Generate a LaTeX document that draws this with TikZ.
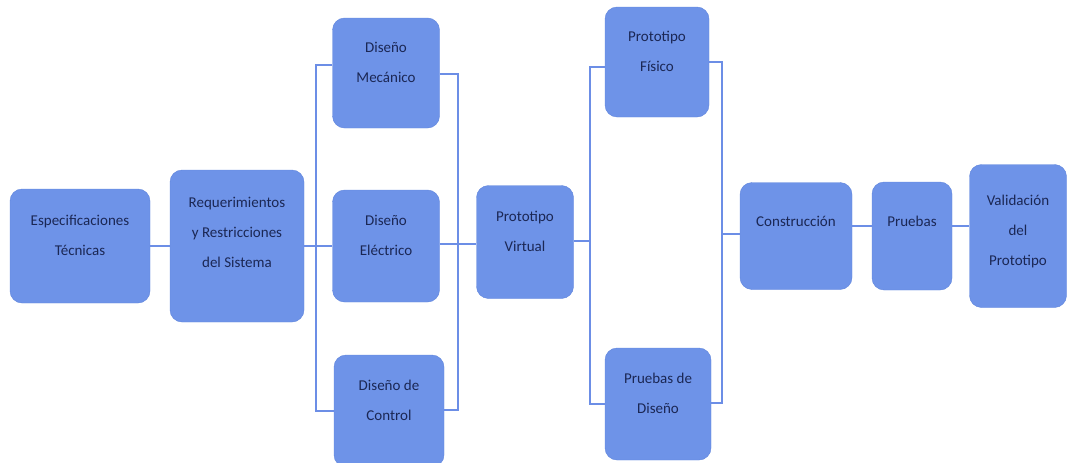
\documentclass[tikz,border=0pt]{standalone}
\usepackage{fontspec}
\setmainfont{Carlito}
\usepackage{xcolor}
\definecolor{bx}{HTML}{6E93E8}
\definecolor{bxl}{HTML}{5F85DC}
\definecolor{ln}{HTML}{6C8EE6}
\definecolor{tx}{HTML}{1B2754}

\tikzset{
	etapa/.style={draw=bxl, fill=bx, rounded corners=12pt, align=center, text=tx,
		font=\fontsize{15}{30}\selectfont, inner sep=2pt, text depth=22pt},
	enlace/.style={ln, line width=1.8pt}
}

\begin{document}
\begin{tikzpicture}[x=1pt,y=-1pt]
	\useasboundingbox (0,0) rectangle (1068,463);

	% primera parte
	\node[etapa, minimum width=140pt, minimum height=114pt] (espec) at (80,246) {Especificaciones\\Técnicas};
	\node[etapa, minimum width=134pt, minimum height=152pt, text depth=28pt] (req) at (237,246) {Requerimientos\\y Restricciones\\del Sistema};
	\draw [enlace] (espec) -- (req);

	% disenos
	\node[etapa, minimum width=107pt, minimum height=110pt] (meca) at (386,73) {Diseño\\Mecánico};
	\node[etapa, minimum width=107pt, minimum height=112pt] (elec) at (386,246) {Diseño\\Eléctrico};
	\node[etapa, minimum width=110pt, minimum height=112pt] (ctrl) at (389,411) {Diseño de\\Control};
	\coordinate (b1t) at (316,65);
	\coordinate (b1m) at (316,246);
	\coordinate (b1b) at (316,411);
	\draw [enlace] (req) -- (b1m) -- (elec);
	\draw [enlace] (meca.west |- b1t) -- (b1t) -- (b1b) -- (ctrl.west |- b1b);
	\coordinate (b2t) at (458,74);
	\coordinate (b2m) at (458,244);
	\coordinate (b2b) at (458,410);
	\draw [enlace] (meca.east |- b2t) -- (b2t) -- (b2b) -- (ctrl.east |- b2b);

	% prototipo virtual
	\node[etapa, minimum width=97pt, minimum height=113pt] (virt) at (525,242) {Prototipo\\Virtual};
	\draw [enlace] (elec.east |- b2m) -- (b2m) -- (virt.west |- b2m);

	% prototipo fisico y pruebas
	\node[etapa, minimum width=104pt, minimum height=110pt] (fis) at (657,62) {Prototipo\\Físico};
	\node[etapa, minimum width=106pt, minimum height=112pt] (prue) at (658,404) {Pruebas de\\Diseño};
	\coordinate (b3t) at (590,67);
	\coordinate (b3m) at (590,241);
	\coordinate (b3b) at (590,404);
	\draw [enlace] (virt.east |- b3m) -- (b3m);
	\draw [enlace] (fis.west |- b3t) -- (b3t) -- (b3b) -- (prue.west |- b3b);
	\coordinate (b4t) at (722,62);
	\coordinate (b4m) at (722,234);
	\coordinate (b4b) at (722,403);
	\draw [enlace] (fis.east |- b4t) -- (b4t) -- (b4b) -- (prue.east |- b4b);

	% etapa final
	\node[etapa, minimum width=112pt, minimum height=107pt, text depth=30pt] (cons) at (796,236) {Construcción};
	\node[etapa, minimum width=80pt, minimum height=108pt, text depth=30pt] (prb) at (912,236) {Pruebas};
	\node[etapa, minimum width=97pt, minimum height=143pt, text depth=12pt] (valid) at (1018,236) {Validación\\del\\Prototipo};
	\coordinate (fila) at (0,226);
	\draw [enlace] (b4m) -- (cons.west |- b4m);
	\draw [enlace] (cons.east |- fila) -- (prb.west |- fila);
	\draw [enlace] (prb.east |- fila) -- (valid.west |- fila);
\end{tikzpicture}
\end{document}
